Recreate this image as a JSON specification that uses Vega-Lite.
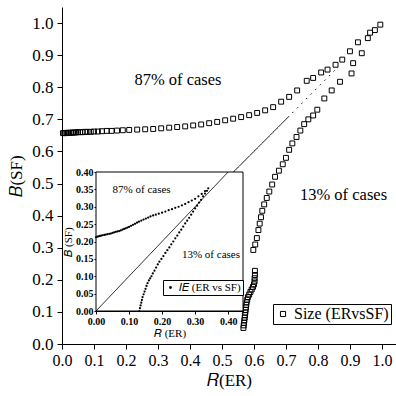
{
  "$schema": "https://vega.github.io/schema/vega-lite/v6.json",
  "width": 334,
  "height": 337,
  "autosize": "none",
  "padding": {"left": 62, "top": 7, "right": 0, "bottom": 52},
  "background": "white",
  "config": {
    "font": "Liberation Serif",
    "view": {"stroke": null},
    "axis": {"grid": false, "domainColor": "black", "tickColor": "black", "labelColor": "black", "titleColor": "black", "titleFontWeight": "normal", "labelFont": "Liberation Serif", "titleFont": "Liberation Serif"},
    "legend": {"labelFont": "Liberation Serif", "labelColor": "black"}
  },
  "datasets": {
    "mainPts": [
      {"x": 0.003, "y": 0.657, "series": "Size (ERvsSF)"},
      {"x": 0.007, "y": 0.657, "series": "Size (ERvsSF)"},
      {"x": 0.011, "y": 0.657, "series": "Size (ERvsSF)"},
      {"x": 0.015, "y": 0.658, "series": "Size (ERvsSF)"},
      {"x": 0.019, "y": 0.658, "series": "Size (ERvsSF)"},
      {"x": 0.023, "y": 0.658, "series": "Size (ERvsSF)"},
      {"x": 0.028, "y": 0.658, "series": "Size (ERvsSF)"},
      {"x": 0.033, "y": 0.659, "series": "Size (ERvsSF)"},
      {"x": 0.038, "y": 0.659, "series": "Size (ERvsSF)"},
      {"x": 0.044, "y": 0.659, "series": "Size (ERvsSF)"},
      {"x": 0.05, "y": 0.66, "series": "Size (ERvsSF)"},
      {"x": 0.057, "y": 0.66, "series": "Size (ERvsSF)"},
      {"x": 0.064, "y": 0.66, "series": "Size (ERvsSF)"},
      {"x": 0.072, "y": 0.661, "series": "Size (ERvsSF)"},
      {"x": 0.08, "y": 0.661, "series": "Size (ERvsSF)"},
      {"x": 0.09, "y": 0.661, "series": "Size (ERvsSF)"},
      {"x": 0.1, "y": 0.662, "series": "Size (ERvsSF)"},
      {"x": 0.112, "y": 0.662, "series": "Size (ERvsSF)"},
      {"x": 0.125, "y": 0.663, "series": "Size (ERvsSF)"},
      {"x": 0.14, "y": 0.664, "series": "Size (ERvsSF)"},
      {"x": 0.155, "y": 0.664, "series": "Size (ERvsSF)"},
      {"x": 0.172, "y": 0.665, "series": "Size (ERvsSF)"},
      {"x": 0.19, "y": 0.666, "series": "Size (ERvsSF)"},
      {"x": 0.21, "y": 0.667, "series": "Size (ERvsSF)"},
      {"x": 0.235, "y": 0.668, "series": "Size (ERvsSF)"},
      {"x": 0.26, "y": 0.669, "series": "Size (ERvsSF)"},
      {"x": 0.285, "y": 0.67, "series": "Size (ERvsSF)"},
      {"x": 0.31, "y": 0.672, "series": "Size (ERvsSF)"},
      {"x": 0.335, "y": 0.674, "series": "Size (ERvsSF)"},
      {"x": 0.36, "y": 0.676, "series": "Size (ERvsSF)"},
      {"x": 0.385, "y": 0.678, "series": "Size (ERvsSF)"},
      {"x": 0.41, "y": 0.681, "series": "Size (ERvsSF)"},
      {"x": 0.435, "y": 0.684, "series": "Size (ERvsSF)"},
      {"x": 0.46, "y": 0.688, "series": "Size (ERvsSF)"},
      {"x": 0.485, "y": 0.692, "series": "Size (ERvsSF)"},
      {"x": 0.51, "y": 0.697, "series": "Size (ERvsSF)"},
      {"x": 0.535, "y": 0.702, "series": "Size (ERvsSF)"},
      {"x": 0.56, "y": 0.707, "series": "Size (ERvsSF)"},
      {"x": 0.585, "y": 0.713, "series": "Size (ERvsSF)"},
      {"x": 0.61, "y": 0.72, "series": "Size (ERvsSF)"},
      {"x": 0.635, "y": 0.728, "series": "Size (ERvsSF)"},
      {"x": 0.66, "y": 0.738, "series": "Size (ERvsSF)"},
      {"x": 0.685, "y": 0.755, "series": "Size (ERvsSF)"},
      {"x": 0.71, "y": 0.77, "series": "Size (ERvsSF)"},
      {"x": 0.735, "y": 0.79, "series": "Size (ERvsSF)"},
      {"x": 0.765, "y": 0.82, "series": "Size (ERvsSF)"},
      {"x": 0.785, "y": 0.829, "series": "Size (ERvsSF)"},
      {"x": 0.81, "y": 0.846, "series": "Size (ERvsSF)"},
      {"x": 0.83, "y": 0.855, "series": "Size (ERvsSF)"},
      {"x": 0.855, "y": 0.87, "series": "Size (ERvsSF)"},
      {"x": 0.876, "y": 0.886, "series": "Size (ERvsSF)"},
      {"x": 0.9, "y": 0.912, "series": "Size (ERvsSF)"},
      {"x": 0.925, "y": 0.94, "series": "Size (ERvsSF)"},
      {"x": 0.963, "y": 0.97, "series": "Size (ERvsSF)"},
      {"x": 0.995, "y": 0.995, "series": "Size (ERvsSF)"},
      {"x": 0.567, "y": 0.05, "series": "Size (ERvsSF)"},
      {"x": 0.568, "y": 0.058, "series": "Size (ERvsSF)"},
      {"x": 0.569, "y": 0.066, "series": "Size (ERvsSF)"},
      {"x": 0.57, "y": 0.074, "series": "Size (ERvsSF)"},
      {"x": 0.571, "y": 0.082, "series": "Size (ERvsSF)"},
      {"x": 0.572, "y": 0.09, "series": "Size (ERvsSF)"},
      {"x": 0.573, "y": 0.098, "series": "Size (ERvsSF)"},
      {"x": 0.574, "y": 0.106, "series": "Size (ERvsSF)"},
      {"x": 0.575, "y": 0.114, "series": "Size (ERvsSF)"},
      {"x": 0.576, "y": 0.122, "series": "Size (ERvsSF)"},
      {"x": 0.577, "y": 0.13, "series": "Size (ERvsSF)"},
      {"x": 0.579, "y": 0.138, "series": "Size (ERvsSF)"},
      {"x": 0.581, "y": 0.146, "series": "Size (ERvsSF)"},
      {"x": 0.585, "y": 0.154, "series": "Size (ERvsSF)"},
      {"x": 0.589, "y": 0.162, "series": "Size (ERvsSF)"},
      {"x": 0.593, "y": 0.17, "series": "Size (ERvsSF)"},
      {"x": 0.597, "y": 0.178, "series": "Size (ERvsSF)"},
      {"x": 0.6, "y": 0.186, "series": "Size (ERvsSF)"},
      {"x": 0.602, "y": 0.195, "series": "Size (ERvsSF)"},
      {"x": 0.602, "y": 0.205, "series": "Size (ERvsSF)"},
      {"x": 0.603, "y": 0.215, "series": "Size (ERvsSF)"},
      {"x": 0.603, "y": 0.228, "series": "Size (ERvsSF)"},
      {"x": 0.598, "y": 0.293, "series": "Size (ERvsSF)"},
      {"x": 0.604, "y": 0.31, "series": "Size (ERvsSF)"},
      {"x": 0.609, "y": 0.33, "series": "Size (ERvsSF)"},
      {"x": 0.614, "y": 0.355, "series": "Size (ERvsSF)"},
      {"x": 0.618, "y": 0.375, "series": "Size (ERvsSF)"},
      {"x": 0.622, "y": 0.395, "series": "Size (ERvsSF)"},
      {"x": 0.626, "y": 0.415, "series": "Size (ERvsSF)"},
      {"x": 0.632, "y": 0.435, "series": "Size (ERvsSF)"},
      {"x": 0.64, "y": 0.455, "series": "Size (ERvsSF)"},
      {"x": 0.648, "y": 0.475, "series": "Size (ERvsSF)"},
      {"x": 0.657, "y": 0.497, "series": "Size (ERvsSF)"},
      {"x": 0.666, "y": 0.521, "series": "Size (ERvsSF)"},
      {"x": 0.678, "y": 0.54, "series": "Size (ERvsSF)"},
      {"x": 0.69, "y": 0.56, "series": "Size (ERvsSF)"},
      {"x": 0.7, "y": 0.58, "series": "Size (ERvsSF)"},
      {"x": 0.71, "y": 0.605, "series": "Size (ERvsSF)"},
      {"x": 0.72, "y": 0.625, "series": "Size (ERvsSF)"},
      {"x": 0.733, "y": 0.645, "series": "Size (ERvsSF)"},
      {"x": 0.745, "y": 0.665, "series": "Size (ERvsSF)"},
      {"x": 0.757, "y": 0.685, "series": "Size (ERvsSF)"},
      {"x": 0.77, "y": 0.7, "series": "Size (ERvsSF)"},
      {"x": 0.785, "y": 0.712, "series": "Size (ERvsSF)"},
      {"x": 0.798, "y": 0.73, "series": "Size (ERvsSF)"},
      {"x": 0.82, "y": 0.765, "series": "Size (ERvsSF)"},
      {"x": 0.843, "y": 0.79, "series": "Size (ERvsSF)"},
      {"x": 0.869, "y": 0.817, "series": "Size (ERvsSF)"},
      {"x": 0.905, "y": 0.843, "series": "Size (ERvsSF)"},
      {"x": 0.91, "y": 0.875, "series": "Size (ERvsSF)"},
      {"x": 0.937, "y": 0.906, "series": "Size (ERvsSF)"},
      {"x": 0.956, "y": 0.953, "series": "Size (ERvsSF)"},
      {"x": 0.978, "y": 0.978, "series": "Size (ERvsSF)"}
    ],
    "mainDiag": [
      {"x": 0.536, "y": 0.536, "x2": 0.71, "y2": 0.71, "kind": "solid"},
      {"x": 0.72, "y": 0.72, "x2": 0.86, "y2": 0.86, "kind": "dotted"}
    ],
    "mainText": [
      {"x": 0.3625, "y": 0.822, "label": "87% of cases"},
      {"x": 0.88, "y": 0.464, "label": "13% of cases"}
    ],
    "insetPts": [
      {"x": 0.0, "y": 0.212, "series": "𝐼𝐸 (ER vs SF)"},
      {"x": 0.004, "y": 0.214, "series": "𝐼𝐸 (ER vs SF)"},
      {"x": 0.008, "y": 0.215, "series": "𝐼𝐸 (ER vs SF)"},
      {"x": 0.012, "y": 0.216, "series": "𝐼𝐸 (ER vs SF)"},
      {"x": 0.016, "y": 0.217, "series": "𝐼𝐸 (ER vs SF)"},
      {"x": 0.02, "y": 0.218, "series": "𝐼𝐸 (ER vs SF)"},
      {"x": 0.025, "y": 0.219, "series": "𝐼𝐸 (ER vs SF)"},
      {"x": 0.03, "y": 0.22, "series": "𝐼𝐸 (ER vs SF)"},
      {"x": 0.035, "y": 0.221, "series": "𝐼𝐸 (ER vs SF)"},
      {"x": 0.04, "y": 0.222, "series": "𝐼𝐸 (ER vs SF)"},
      {"x": 0.045, "y": 0.223, "series": "𝐼𝐸 (ER vs SF)"},
      {"x": 0.05, "y": 0.225, "series": "𝐼𝐸 (ER vs SF)"},
      {"x": 0.055, "y": 0.226, "series": "𝐼𝐸 (ER vs SF)"},
      {"x": 0.06, "y": 0.228, "series": "𝐼𝐸 (ER vs SF)"},
      {"x": 0.065, "y": 0.229, "series": "𝐼𝐸 (ER vs SF)"},
      {"x": 0.07, "y": 0.23, "series": "𝐼𝐸 (ER vs SF)"},
      {"x": 0.075, "y": 0.232, "series": "𝐼𝐸 (ER vs SF)"},
      {"x": 0.08, "y": 0.234, "series": "𝐼𝐸 (ER vs SF)"},
      {"x": 0.085, "y": 0.236, "series": "𝐼𝐸 (ER vs SF)"},
      {"x": 0.09, "y": 0.238, "series": "𝐼𝐸 (ER vs SF)"},
      {"x": 0.095, "y": 0.24, "series": "𝐼𝐸 (ER vs SF)"},
      {"x": 0.1, "y": 0.242, "series": "𝐼𝐸 (ER vs SF)"},
      {"x": 0.106, "y": 0.245, "series": "𝐼𝐸 (ER vs SF)"},
      {"x": 0.112, "y": 0.248, "series": "𝐼𝐸 (ER vs SF)"},
      {"x": 0.118, "y": 0.251, "series": "𝐼𝐸 (ER vs SF)"},
      {"x": 0.124, "y": 0.254, "series": "𝐼𝐸 (ER vs SF)"},
      {"x": 0.13, "y": 0.257, "series": "𝐼𝐸 (ER vs SF)"},
      {"x": 0.137, "y": 0.26, "series": "𝐼𝐸 (ER vs SF)"},
      {"x": 0.144, "y": 0.263, "series": "𝐼𝐸 (ER vs SF)"},
      {"x": 0.151, "y": 0.266, "series": "𝐼𝐸 (ER vs SF)"},
      {"x": 0.158, "y": 0.269, "series": "𝐼𝐸 (ER vs SF)"},
      {"x": 0.165, "y": 0.272, "series": "𝐼𝐸 (ER vs SF)"},
      {"x": 0.173, "y": 0.275, "series": "𝐼𝐸 (ER vs SF)"},
      {"x": 0.181, "y": 0.277, "series": "𝐼𝐸 (ER vs SF)"},
      {"x": 0.19, "y": 0.28, "series": "𝐼𝐸 (ER vs SF)"},
      {"x": 0.2, "y": 0.283, "series": "𝐼𝐸 (ER vs SF)"},
      {"x": 0.21, "y": 0.286, "series": "𝐼𝐸 (ER vs SF)"},
      {"x": 0.22, "y": 0.29, "series": "𝐼𝐸 (ER vs SF)"},
      {"x": 0.23, "y": 0.293, "series": "𝐼𝐸 (ER vs SF)"},
      {"x": 0.24, "y": 0.297, "series": "𝐼𝐸 (ER vs SF)"},
      {"x": 0.25, "y": 0.3, "series": "𝐼𝐸 (ER vs SF)"},
      {"x": 0.26, "y": 0.304, "series": "𝐼𝐸 (ER vs SF)"},
      {"x": 0.27, "y": 0.308, "series": "𝐼𝐸 (ER vs SF)"},
      {"x": 0.28, "y": 0.313, "series": "𝐼𝐸 (ER vs SF)"},
      {"x": 0.29, "y": 0.318, "series": "𝐼𝐸 (ER vs SF)"},
      {"x": 0.3, "y": 0.323, "series": "𝐼𝐸 (ER vs SF)"},
      {"x": 0.31, "y": 0.33, "series": "𝐼𝐸 (ER vs SF)"},
      {"x": 0.32, "y": 0.337, "series": "𝐼𝐸 (ER vs SF)"},
      {"x": 0.33, "y": 0.345, "series": "𝐼𝐸 (ER vs SF)"},
      {"x": 0.34, "y": 0.353, "series": "𝐼𝐸 (ER vs SF)"},
      {"x": 0.131, "y": 0.0, "series": "𝐼𝐸 (ER vs SF)"},
      {"x": 0.133, "y": 0.008, "series": "𝐼𝐸 (ER vs SF)"},
      {"x": 0.135, "y": 0.016, "series": "𝐼𝐸 (ER vs SF)"},
      {"x": 0.137, "y": 0.024, "series": "𝐼𝐸 (ER vs SF)"},
      {"x": 0.139, "y": 0.032, "series": "𝐼𝐸 (ER vs SF)"},
      {"x": 0.141, "y": 0.04, "series": "𝐼𝐸 (ER vs SF)"},
      {"x": 0.144, "y": 0.048, "series": "𝐼𝐸 (ER vs SF)"},
      {"x": 0.147, "y": 0.056, "series": "𝐼𝐸 (ER vs SF)"},
      {"x": 0.15, "y": 0.064, "series": "𝐼𝐸 (ER vs SF)"},
      {"x": 0.153, "y": 0.072, "series": "𝐼𝐸 (ER vs SF)"},
      {"x": 0.156, "y": 0.08, "series": "𝐼𝐸 (ER vs SF)"},
      {"x": 0.16, "y": 0.088, "series": "𝐼𝐸 (ER vs SF)"},
      {"x": 0.164, "y": 0.094, "series": "𝐼𝐸 (ER vs SF)"},
      {"x": 0.168, "y": 0.1, "series": "𝐼𝐸 (ER vs SF)"},
      {"x": 0.172, "y": 0.108, "series": "𝐼𝐸 (ER vs SF)"},
      {"x": 0.177, "y": 0.116, "series": "𝐼𝐸 (ER vs SF)"},
      {"x": 0.182, "y": 0.125, "series": "𝐼𝐸 (ER vs SF)"},
      {"x": 0.187, "y": 0.134, "series": "𝐼𝐸 (ER vs SF)"},
      {"x": 0.192, "y": 0.142, "series": "𝐼𝐸 (ER vs SF)"},
      {"x": 0.198, "y": 0.15, "series": "𝐼𝐸 (ER vs SF)"},
      {"x": 0.204, "y": 0.158, "series": "𝐼𝐸 (ER vs SF)"},
      {"x": 0.21, "y": 0.167, "series": "𝐼𝐸 (ER vs SF)"},
      {"x": 0.216, "y": 0.175, "series": "𝐼𝐸 (ER vs SF)"},
      {"x": 0.222, "y": 0.183, "series": "𝐼𝐸 (ER vs SF)"},
      {"x": 0.228, "y": 0.192, "series": "𝐼𝐸 (ER vs SF)"},
      {"x": 0.234, "y": 0.2, "series": "𝐼𝐸 (ER vs SF)"},
      {"x": 0.24, "y": 0.209, "series": "𝐼𝐸 (ER vs SF)"},
      {"x": 0.246, "y": 0.217, "series": "𝐼𝐸 (ER vs SF)"},
      {"x": 0.252, "y": 0.226, "series": "𝐼𝐸 (ER vs SF)"},
      {"x": 0.258, "y": 0.234, "series": "𝐼𝐸 (ER vs SF)"},
      {"x": 0.264, "y": 0.243, "series": "𝐼𝐸 (ER vs SF)"},
      {"x": 0.27, "y": 0.252, "series": "𝐼𝐸 (ER vs SF)"},
      {"x": 0.276, "y": 0.26, "series": "𝐼𝐸 (ER vs SF)"},
      {"x": 0.282, "y": 0.268, "series": "𝐼𝐸 (ER vs SF)"},
      {"x": 0.288, "y": 0.277, "series": "𝐼𝐸 (ER vs SF)"},
      {"x": 0.294, "y": 0.286, "series": "𝐼𝐸 (ER vs SF)"},
      {"x": 0.3, "y": 0.295, "series": "𝐼𝐸 (ER vs SF)"},
      {"x": 0.306, "y": 0.303, "series": "𝐼𝐸 (ER vs SF)"},
      {"x": 0.312, "y": 0.312, "series": "𝐼𝐸 (ER vs SF)"},
      {"x": 0.318, "y": 0.32, "series": "𝐼𝐸 (ER vs SF)"},
      {"x": 0.324, "y": 0.33, "series": "𝐼𝐸 (ER vs SF)"},
      {"x": 0.33, "y": 0.338, "series": "𝐼𝐸 (ER vs SF)"},
      {"x": 0.336, "y": 0.346, "series": "𝐼𝐸 (ER vs SF)"}
    ],
    "insetFrame": [{"x": 0, "y": 0, "x2": 0.445, "y2": 0.4}],
    "insetDiag": [{"x": 0, "y": 0, "x2": 0.4, "y2": 0.4}],
    "insetText": [
      {"x": 0.138, "y": 0.348, "label": "87% of cases"},
      {"x": 0.348, "y": 0.161, "label": "13% of cases"}
    ]
  },
  "layer": [
    {
      "encoding": {
        "x": {"field": "x", "type": "quantitative",
          "scale": {"domain": [0, 1.044], "nice": false, "zero": false},
          "axis": {"orient": "bottom", "title": "𝑅(ER)", "values": [0, 0.1, 0.2, 0.3, 0.4, 0.5, 0.6, 0.7, 0.8, 0.9, 1.0], "format": ".1f", "labelFontSize": 16, "titleFontSize": 17, "tickSize": 5, "labelPadding": 3, "titlePadding": 4, "labelFlush": false, "labelOverlap": false}},
        "y": {"field": "y", "type": "quantitative",
          "scale": {"domain": [0, 1.05], "nice": false, "zero": false},
          "axis": {"orient": "left", "title": "𝐵(SF)", "values": [0, 0.1, 0.2, 0.3, 0.4, 0.5, 0.6, 0.7, 0.8, 0.9, 1.0], "format": ".1f", "labelFontSize": 17, "titleFontSize": 17, "tickSize": 5, "labelPadding": 4, "titlePadding": 6, "labelFlush": false, "labelOverlap": false}}
      },
      "layer": [
        {
          "data": {"name": "mainDiag"},
          "mark": {"type": "rule", "color": "black", "strokeWidth": 1},
          "encoding": {
            "x2": {"field": "x2"},
            "y2": {"field": "y2"},
            "strokeDash": {"field": "kind", "type": "nominal", "scale": {"domain": ["solid", "dotted"], "range": [[1, 0], [1.5, 5]]}, "legend": null}
          }
        },
        {
          "data": {"name": "mainPts"},
          "mark": {"type": "point", "filled": false, "color": "black", "strokeWidth": 1, "size": 24, "opacity": 1},
          "encoding": {
            "shape": {"field": "series", "type": "nominal", "scale": {"range": ["square"]},
              "legend": {"orient": "none", "legendX": 211, "legendY": 297, "title": null, "strokeColor": "black", "padding": 2, "labelFontSize": 16, "symbolSize": 26, "symbolStrokeWidth": 1, "symbolStrokeColor": "black", "symbolFillColor": "white", "labelOffset": 3, "fillColor": "white"}}
          }
        },
        {
          "data": {"name": "mainText"},
          "mark": {"type": "text", "font": "Liberation Serif", "fontSize": 16.5, "color": "black"},
          "encoding": {"text": {"field": "label"}}
        }
      ]
    },
    {
      "encoding": {
        "x": {"field": "x", "type": "quantitative",
          "scale": {"domain": [0, 0.445], "range": [34, 181], "nice": false, "zero": false},
          "axis": {"orient": "bottom", "offset": -33, "title": "𝑅 (ER)", "values": [0, 0.1, 0.2, 0.3, 0.4], "format": ".2f", "labelFontSize": 10, "labelFontWeight": "bold", "titleFontSize": 11, "tickSize": 3, "labelPadding": 2, "titlePadding": 1, "labelFlush": false, "labelOverlap": false}},
        "y": {"field": "y", "type": "quantitative",
          "scale": {"domain": [0, 0.4], "range": [304, 165], "nice": false, "zero": false},
          "axis": {"orient": "left", "offset": -34, "title": "𝐵 (SF)", "values": [0, 0.05, 0.1, 0.15, 0.2, 0.25, 0.3, 0.35, 0.4], "format": ".2f", "labelFontSize": 10, "labelFontWeight": "bold", "titleFontSize": 11, "tickSize": 2, "labelPadding": 1, "titlePadding": 2, "labelFlush": false, "labelOverlap": false}}
      },
      "layer": [
        {
          "data": {"name": "insetFrame"},
          "mark": {"type": "rect", "fill": "white", "stroke": "black", "strokeWidth": 1},
          "encoding": {"x2": {"field": "x2"}, "y2": {"field": "y2"}}
        },
        {
          "data": {"name": "insetDiag"},
          "mark": {"type": "rule", "color": "black", "strokeWidth": 0.8},
          "encoding": {"x2": {"field": "x2"}, "y2": {"field": "y2"}}
        },
        {
          "data": {"name": "insetPts"},
          "mark": {"type": "circle", "size": 5, "opacity": 1},
          "encoding": {
            "color": {"field": "series", "type": "nominal", "scale": {"range": ["black"]},
              "legend": {"orient": "none", "legendX": 101, "legendY": 273, "title": null, "strokeColor": "black", "padding": 2, "labelFontSize": 11, "symbolSize": 8, "labelOffset": 3, "fillColor": "white"}}
          }
        },
        {
          "data": {"name": "insetText"},
          "mark": {"type": "text", "font": "Liberation Serif", "fontSize": 11, "color": "black"},
          "encoding": {"text": {"field": "label"}}
        }
      ]
    }
  ],
  "resolve": {"scale": {"x": "independent", "y": "independent"}, "axis": {"x": "independent", "y": "independent"}}
}
